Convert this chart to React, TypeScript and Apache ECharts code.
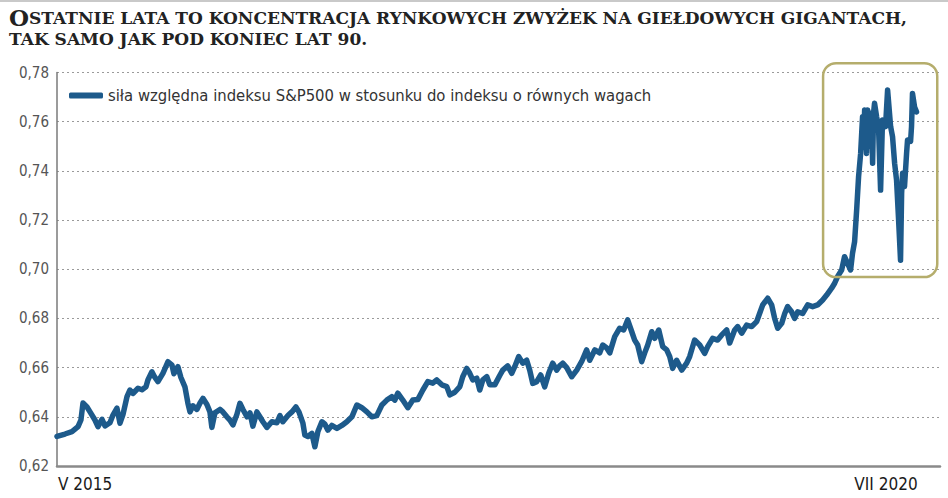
import React, { useEffect, useRef } from "react";
import * as echarts from "echarts";

// Title (rendered as small caps)
const titleLine1 = "Ostatnie lata to koncentracja rynkowych zwyżek na giełdowych gigantach,";
const titleLine2 = "tak samo jak pod koniec lat 90.";
const seriesName = "siła względna indeksu S&P500 w stosunku do indeksu o równych wagach";

// x: months since May 2015
const months = [
  0.0, 0.58, 1.09, 1.53, 1.74, 1.89, 2.18, 2.4, 2.76, 2.98, 3.27, 3.49, 3.85, 4.07, 4.36, 4.58, 4.8, 5.09, 5.3, 5.52,
  5.89, 6.18, 6.47, 6.61, 6.9, 7.12, 7.34, 7.7, 8.07, 8.36, 8.5, 8.79, 9.01, 9.3, 9.52, 9.67, 9.88, 10.17, 10.39, 10.61,
  10.9, 11.12, 11.26, 11.48, 11.85, 12.06, 12.35, 12.57, 12.79, 13.08, 13.3, 13.52, 13.81, 14.03, 14.24, 14.53, 14.75, 14.97, 15.26, 15.62,
  15.99, 16.21, 16.42, 16.79, 17.08, 17.37, 17.59, 17.88, 18.02, 18.24, 18.53, 18.75, 18.97, 19.26, 19.48, 19.69, 19.98, 20.35, 20.71, 21.07,
  21.44, 21.8, 22.16, 22.53, 22.89, 23.25, 23.62, 23.98, 24.34, 24.56, 24.78, 25.14, 25.51, 25.87, 26.23, 26.6, 26.96, 27.32, 27.61, 27.98,
  28.34, 28.56, 28.92, 29.29, 29.5, 29.79, 30.01, 30.23, 30.52, 30.74, 30.96, 31.25, 31.47, 31.83, 32.19, 32.41, 32.77, 33.06, 33.28, 33.57,
  33.86, 34.15, 34.37, 34.59, 34.88, 35.17, 35.46, 35.75, 36.04, 36.33, 36.55, 36.77, 37.06, 37.42, 37.79, 38.15, 38.51, 38.73, 39.1, 39.46,
  39.68, 39.97, 40.19, 40.55, 40.91, 41.2, 41.49, 41.79, 42.0, 42.22, 42.51, 42.73, 42.95, 43.24, 43.46, 43.75, 44.04, 44.33, 44.55, 44.76,
  45.05, 45.42, 45.78, 46.0, 46.36, 46.73, 47.09, 47.31, 47.67, 48.03, 48.33, 48.69, 48.91, 49.27, 49.49, 49.78, 50.14, 50.51, 50.87, 51.09,
  51.31, 51.67, 51.96, 52.18, 52.4, 52.69, 52.91, 53.12, 53.41, 53.63, 53.85, 54.21, 54.58, 54.94, 55.3, 55.67, 55.96, 56.32, 56.54, 56.75,
  57.05, 57.26, 57.48, 57.7, 57.84, 57.99, 58.14, 58.28, 58.43, 58.57, 58.65, 58.72, 58.86, 58.94, 59.08, 59.23, 59.3, 59.37, 59.44, 59.59,
  59.73, 59.88, 60.02, 60.24, 60.39, 60.61, 60.75, 60.9, 61.04, 61.19, 61.33, 61.41, 61.48, 61.62, 61.77, 61.84, 62.06, 62.13, 62.2, 62.35,
  62.49,
];

const ratio = [
  0.632, 0.633, 0.634, 0.636, 0.6387, 0.6456, 0.644, 0.642, 0.6387, 0.636, 0.639, 0.6363, 0.6376, 0.6407, 0.6435, 0.6374, 0.641, 0.6482, 0.6509, 0.6495,
  0.6516, 0.651, 0.6522, 0.655, 0.6583, 0.656, 0.6543, 0.6577, 0.6624, 0.661, 0.6575, 0.6604, 0.656, 0.6522, 0.6455, 0.642, 0.6445, 0.643, 0.6455, 0.6475,
  0.645, 0.642, 0.6357, 0.6416, 0.643, 0.642, 0.64, 0.6387, 0.6367, 0.641, 0.6455, 0.643, 0.64, 0.6416, 0.6362, 0.642, 0.64, 0.638, 0.6357, 0.638,
  0.6376, 0.6405, 0.638, 0.6405, 0.642, 0.644, 0.642, 0.6374, 0.6326, 0.632, 0.6333, 0.6278, 0.634, 0.638, 0.637, 0.6346, 0.6365, 0.6353, 0.6365, 0.638,
  0.64, 0.6448, 0.6437, 0.642, 0.64, 0.6405, 0.6448, 0.6468, 0.6482, 0.6468, 0.6496, 0.6468, 0.6437, 0.6468, 0.647, 0.6509, 0.6543, 0.6537, 0.655, 0.653,
  0.6523, 0.6489, 0.65, 0.6523, 0.6563, 0.6597, 0.6577, 0.655, 0.6557, 0.6509, 0.655, 0.6563, 0.653, 0.653, 0.6568, 0.659, 0.6607, 0.6577, 0.6604, 0.6645,
  0.6618, 0.663, 0.659, 0.6536, 0.6543, 0.657, 0.6522, 0.6577, 0.6618, 0.659, 0.6607, 0.6618, 0.66, 0.6563, 0.659, 0.6625, 0.6672, 0.663, 0.6672, 0.666,
  0.6692, 0.668, 0.666, 0.6726, 0.676, 0.6753, 0.6794, 0.6746, 0.6712, 0.6692, 0.6624, 0.666, 0.6692, 0.6746, 0.6719, 0.6753, 0.6685, 0.6672, 0.6645, 0.6597,
  0.663, 0.659, 0.6618, 0.6645, 0.6712, 0.6692, 0.6658, 0.6685, 0.6719, 0.6712, 0.6733, 0.6753, 0.67, 0.6753, 0.6767, 0.674, 0.6773, 0.6767, 0.6787, 0.6821,
  0.6855, 0.6882, 0.6855, 0.68, 0.676, 0.678, 0.682, 0.6848, 0.6827, 0.68, 0.6827, 0.682, 0.6855, 0.6848, 0.6855, 0.6875, 0.6895, 0.6923, 0.6943, 0.697,
  0.6997, 0.7051, 0.7024, 0.6997, 0.7065, 0.7112, 0.7241, 0.7376, 0.7471, 0.762, 0.751, 0.7648, 0.7471, 0.7648, 0.75, 0.7635, 0.7431, 0.7635, 0.7675, 0.762,
  0.758, 0.7322, 0.7607, 0.758, 0.7729, 0.758, 0.7539, 0.7431, 0.7363, 0.72, 0.7037, 0.731, 0.739, 0.7336, 0.7471, 0.7526, 0.752, 0.758, 0.7715, 0.766,
  0.764,
];

// Axis
const yMin = 0.62;
const yMax = 0.78;
const yStep = 0.02;
const xMin = 0;
const xMax = 64.2;
const xLabels = ["V 2015", "VII 2020"];
const xLabelMonths = [0, 62.5];

// highlighted period box (months, values)
const boxMonths = [55.7, 64.0];
const boxValues = [0.6968, 0.7838];

const LINE_COLOR = "#1d5a8b";
const SANS = "'Liberation Sans Narrow', 'DejaVu Sans Condensed', 'Roboto', sans-serif";
const SERIF = "'DejaVu Serif', 'Liberation Serif', serif";

export default function App() {
  const ref = useRef<HTMLDivElement>(null);
  useEffect(() => {
    if (!ref.current) return;
    const chart = echarts.init(ref.current, null, { renderer: "svg" });
    const data = months.map((m, i) => [m, ratio[i]]);
    chart.setOption({
      animation: false,
      backgroundColor: "#ffffff",
      title: {
        left: 4,
        top: 2,
        text:
          "{a|" + titleLine1.charAt(0).toUpperCase() + "}{b|" + titleLine1.slice(1).toUpperCase() + "}\n{b|" +
          titleLine2.toUpperCase() + "}",
        textStyle: {
          rich: {
            a: { fontFamily: SERIF, fontWeight: "bold", fontSize: 23, color: "#222", lineHeight: 21 },
            b: { fontFamily: SERIF, fontWeight: "bold", fontSize: 17, color: "#222", lineHeight: 21 },
          },
        },
      },
      legend: {
        left: 64,
        top: 82,
        icon: "roundRect",
        itemWidth: 34,
        itemHeight: 6,
        itemGap: 8,
        textStyle: { fontFamily: SANS, fontSize: 16.5, color: "#333" },
        data: [seriesName],
      },
      grid: { left: 57, right: 8, top: 72.5, bottom: 32, containLabel: false },
      xAxis: {
        type: "value",
        min: xMin,
        max: xMax,
        axisLine: { show: true, onZero: false, lineStyle: { color: "#8a8a8a", width: 2.5 } },
        axisTick: { show: false },
        axisLabel: { show: false },
        splitLine: { show: false },
      },
      yAxis: {
        type: "value",
        min: yMin,
        max: yMax,
        interval: yStep,
        axisLine: { show: true, lineStyle: { color: "#7a7a7a", width: 1.5 } },
        axisTick: { show: false },
        axisLabel: {
          margin: 8,
          fontFamily: SANS,
          fontSize: 15,
          color: "#555",
          formatter: (v: number) => v.toFixed(2).replace(".", ","),
        },
        splitLine: { show: true, lineStyle: { color: "#9a9a9a", width: 1, type: [2, 3] } },
      },
      series: [
        {
          name: seriesName,
          type: "line",
          data,
          showSymbol: false,
          symbol: "none",
          color: LINE_COLOR,
          lineStyle: { color: LINE_COLOR, width: 5.5, join: "round", cap: "round" },
          z: 3,
        },
      ],
    });

    const p0 = chart.convertToPixel({ gridIndex: 0 }, [boxMonths[0], boxValues[1]]) as number[];
    const p1 = chart.convertToPixel({ gridIndex: 0 }, [boxMonths[1], boxValues[0]]) as number[];
    const labelY = (chart.convertToPixel({ gridIndex: 0 }, [0, yMin]) as number[])[1] + 18;
    const graphic: any[] = [
      {
        type: "rect",
        shape: { x: 0, y: 0, width: 948, height: 2 },
        style: { fill: "#c9c9c9" },
        silent: true,
      },
      {
        type: "rect",
        z: 10,
        shape: { x: p0[0], y: p0[1], width: p1[0] - p0[0], height: p1[1] - p0[1], r: 13 },
        style: { fill: "none", stroke: "#b5ad6c", lineWidth: 2.5 },
        silent: true,
      },
    ];
    xLabels.forEach((lab, i) => {
      const px = (chart.convertToPixel({ gridIndex: 0 }, [xLabelMonths[i], yMin]) as number[])[0];
      graphic.push({
        type: "text",
        x: px + 1,
        y: labelY,
        style: {
          text: lab,
          fontFamily: SANS,
          fontSize: 17,
          fontWeight: "normal",
          fill: "#1a1a1a",
          align: i === 0 ? "left" : "right",
          verticalAlign: "middle",
        },
      });
    });
    chart.setOption({ graphic });
    return () => chart.dispose();
  }, []);
  return (
    <div
      ref={ref}
      style={{ position: "absolute", left: 0, top: 0, width: 948, height: 498 }}
    />
  );
}
